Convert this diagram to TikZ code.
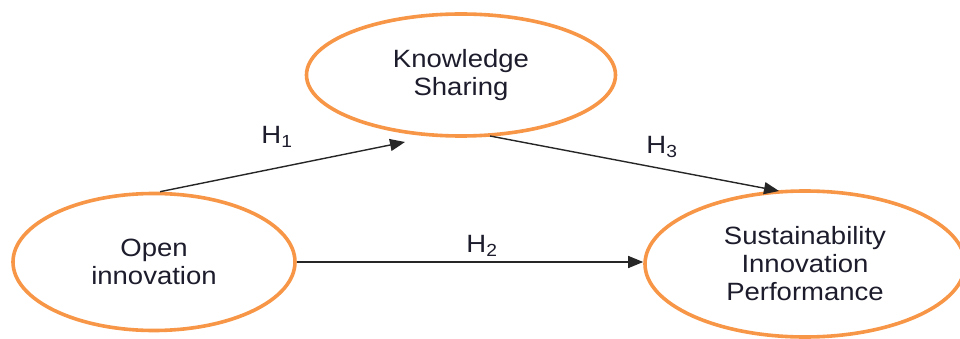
\documentclass[tikz,border=0pt]{standalone}
\usepackage{fontspec}
\setmainfont{Liberation Sans}[FakeStretch=1.1]
\usetikzlibrary{shapes.geometric,arrows.meta,calc}
\definecolor{construct}{HTML}{F79646}
\definecolor{inktext}{HTML}{1C1C2C}
\tikzset{
  construct/.style={ellipse, draw=construct, line width=3.6pt, fill=white,
    inner sep=0pt, align=center, text=inktext,
    font=\fontsize{25}{28}\selectfont},
  path/.style={draw=black!85, line width=1.4pt,
    -{Triangle[length=15pt,width=12pt]}},
  hlabel/.style={text=inktext, font=\fontsize{25}{28}\selectfont, inner sep=0pt}
}
\begin{document}
\begin{tikzpicture}[x=1pt,y=-1pt]
\useasboundingbox (0,0) rectangle (960,339);

% latent constructs
\node[construct, minimum width=309pt, minimum height=122pt] (ks) at (461,75)
  {Knowledge\\Sharing};
\node[construct, minimum width=282pt, minimum height=137pt] (oi) at (154,262)
  {Open\\innovation};
\node[construct, minimum width=320pt, minimum height=146pt] (sip) at (805,264)
  {Sustainability\\Innovation\\Performance};

% free ends of the hypothesised paths
\coordinate (h1tip) at (405,142);
\coordinate (h3start) at (490,136);
\coordinate (h3tip) at (779,191);

% hypothesised paths
\draw[path] ($(oi.north)+(6,0)$) -- (h1tip);
\draw[path] (oi.east) -- (oi.east -| sip.west);
\draw[path] (h3start) -- (h3tip);

% path labels
\node[hlabel] (lh1) at (277,137) {H\textsubscript{1}};
\node[hlabel] (lh2) at (482,246) {H\textsubscript{2}};
\node[hlabel] (lh3) at (662,147) {H\textsubscript{3}};
\end{tikzpicture}
\end{document}
